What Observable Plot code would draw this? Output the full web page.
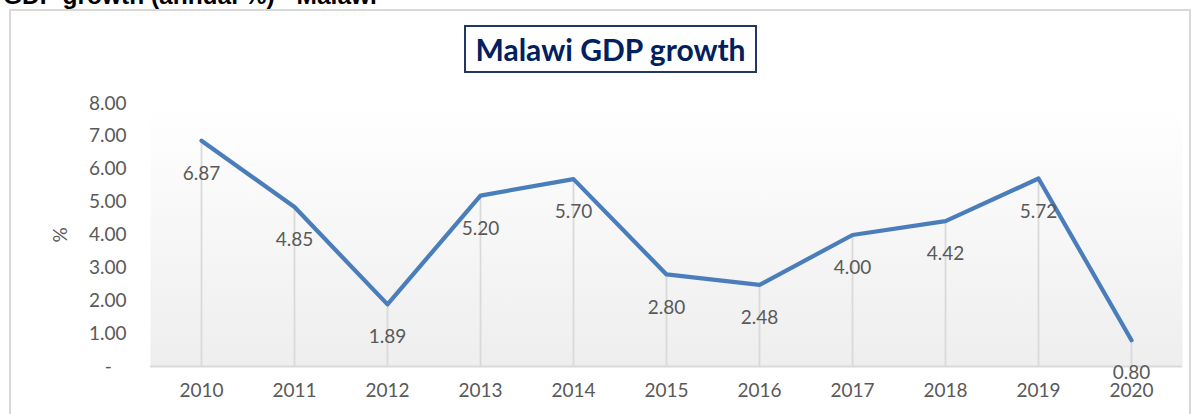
<!DOCTYPE html>
<html>
<head>
<meta charset="utf-8">
<script src="https://cdn.jsdelivr.net/npm/d3@7"></script>
<script src="https://cdn.jsdelivr.net/npm/@observablehq/plot@0.6"></script>
<style>
  html, body { margin: 0; padding: 0; background: #ffffff; }
  #page { position: relative; width: 1198px; height: 414px; overflow: hidden; background: #fff; }
  #top-title { position: absolute; left: 3px; top: -16px; font-family: "Liberation Sans", Arial, sans-serif; font-weight: bold; font-size: 24.5px; line-height: 1; color: #000; white-space: nowrap; }
  #frame { position: absolute; left: 9px; top: 9px; width: 1178px; height: 420px; border: 2px solid #d9d9d9; }
  #title-box { position: absolute; left: 464px; top: 25px; width: 289px; height: 44px; border: 2px solid #1f3864; display: flex; align-items: center; justify-content: center; font-family: Lato, "Open Sans", sans-serif; font-weight: bold; font-size: 30px; color: #002060; background: #fff; }
  #chart { position: absolute; left: 0; top: 80px; }
</style>
</head>
<body>
<div id="page">
  <div id="top-title">GDP growth (annual %) - Malawi</div>
  <div id="frame"></div>
  <div id="title-box">Malawi GDP growth</div>
  <div id="chart"></div>
</div>
<script>
const years = ["2010", "2011", "2012", "2013", "2014", "2015", "2016", "2017", "2018", "2019", "2020"];
const growth = [6.87, 4.85, 1.89, 5.20, 5.70, 2.80, 2.48, 4.00, 4.42, 5.72, 0.80];
const yTicks = [0, 1, 2, 3, 4, 5, 6, 7, 8];
const yLabel = "%";

const data = years.map((y, i) => ({year: y, value: growth[i]}));

const svg = Plot.plot({
  width: 1198,
  height: 334,
  marginLeft: 150,
  marginRight: 16,
  marginTop: 23,
  marginBottom: 48,
  style: {fontFamily: "Lato, 'Open Sans', sans-serif", fontSize: "19px", color: "#595959", background: "transparent"},
  x: {type: "point", domain: years, padding: 0.5},
  y: {domain: [0, 8]},
  marks: [
    Plot.frame({fill: "url(#bgGrad)", stroke: null}),
    Plot.ruleX(data, {x: "year", y1: 0, y2: "value", stroke: "#d9d9d9", strokeWidth: 1.75}),
    Plot.ruleY([0], {stroke: "#d9d9d9", strokeWidth: 2}),
    Plot.axisX({tickSize: 0, tickPadding: 17, label: null, fontSize: 19}),
    Plot.axisY({ticks: yTicks, tickSize: 0, tickPadding: 24, label: null, fontSize: 19,
      tickFormat: d => d === 0 ? "-\u00a0\u00a0\u00a0" : d.toFixed(2)}),
    Plot.text([yLabel], {frameAnchor: "left", dx: -90, rotate: -90, textAnchor: "middle", fontSize: 19, fill: "#595959", text: d => d}),
    Plot.line(data, {x: "year", y: "value", stroke: "#4a7ebb", strokeWidth: 4.25, strokeLinejoin: "round", strokeLinecap: "round"}),
    Plot.text(data, {x: "year", y: "value", text: d => d.value.toFixed(2), dy: 33, fill: "#595959", fontSize: 19})
  ]
});

const defs = d3.select(svg).insert("defs", ":first-child");
const grad = defs.append("linearGradient").attr("id", "bgGrad")
  .attr("x1", 0).attr("y1", 0).attr("x2", 0).attr("y2", 1);
grad.append("stop").attr("offset", "0%").attr("stop-color", "#ffffff");
grad.append("stop").attr("offset", "100%").attr("stop-color", "#eeeeee");

document.getElementById("chart").appendChild(svg);
</script>
</body>
</html>
